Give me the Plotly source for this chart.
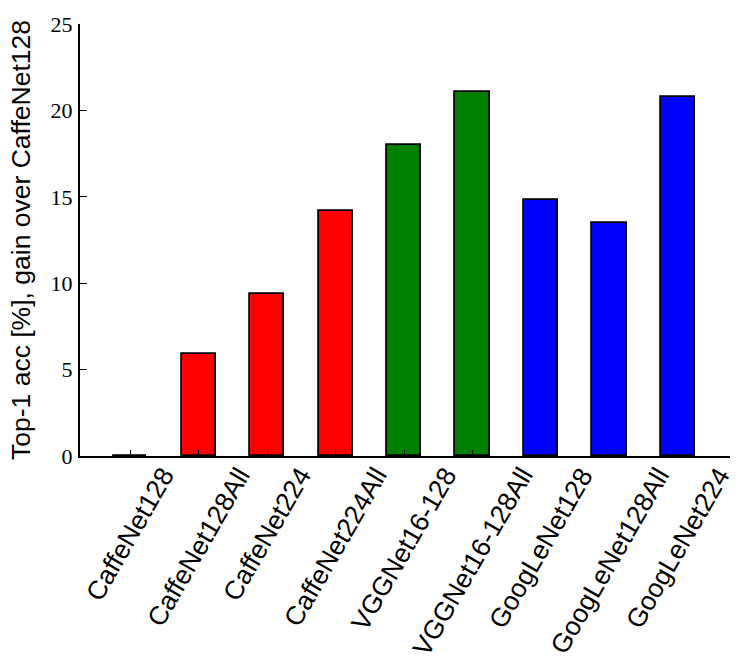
import plotly.graph_objects as go

categories = ["CaffeNet128", "CaffeNet128All", "CaffeNet224", "CaffeNet224All",
              "VGGNet16-128", "VGGNet16-128All", "GoogLeNet128", "GoogLeNet128All",
              "GoogLeNet224"]
gains = [0.0, 5.9, 9.4, 14.2, 18.0, 21.05, 14.8, 13.5, 20.8]
bar_colors = ["#ff0000", "#ff0000", "#ff0000", "#ff0000",
              "#008000", "#008000", "#0000ff", "#0000ff", "#0000ff"]
y_ticks = [0, 5, 10, 15, 20, 25]
y_title = "Top-1 acc [%], gain over CaffeNet128"

xpos = list(range(len(categories)))

fig = go.Figure()
fig.add_trace(go.Bar(
    x=xpos, y=gains, width=0.5,
    marker=dict(color=bar_colors, line=dict(color="black", width=1.8)),
    showlegend=False,
))

annotations = []
for i, name in enumerate(categories):
    annotations.append(dict(
        x=i, y=0, xref="x", yref="paper", text=name, textangle=-60,
        showarrow=False, xanchor="center", yanchor="top", yshift=-4,
        font=dict(family="Liberation Sans, Arial, sans-serif", size=26.5, color="black"),
    ))
annotations.append(dict(
    x=(21 - 80) / 650, y=0.5, xref="paper", yref="paper", text=y_title,
    textangle=-90, showarrow=False, xanchor="center", yanchor="middle",
    font=dict(family="Liberation Sans, Arial, sans-serif", size=26.5, color="black"),
))

fig.update_layout(
    width=750, height=671,
    margin=dict(l=80, r=20, t=22, b=215, pad=0),
    plot_bgcolor="white", paper_bgcolor="white",
    bargap=0,
    annotations=annotations,
    xaxis=dict(
        range=[-0.735, 8.76], tickmode="array", tickvals=xpos, ticktext=[""] * len(xpos),
        ticks="inside", ticklen=6, tickwidth=1, tickcolor="black",
        showline=True, linecolor="black", linewidth=2, showgrid=False, zeroline=False,
    ),
    yaxis=dict(
        range=[0, 25], tickmode="array", tickvals=y_ticks,
        ticktext=[str(v) for v in y_ticks],
        ticks="inside", ticklen=7, tickwidth=1, tickcolor="black",
        showline=True, linecolor="black", linewidth=2, showgrid=False, zeroline=False,
        tickfont=dict(family="Liberation Serif, DejaVu Serif, serif", size=22, color="black"),
        ticklabelstandoff=1,
    ),
)

fig.write_html("out.html", config={"displayModeBar": False},
               post_script="document.body.style.margin='0';")
